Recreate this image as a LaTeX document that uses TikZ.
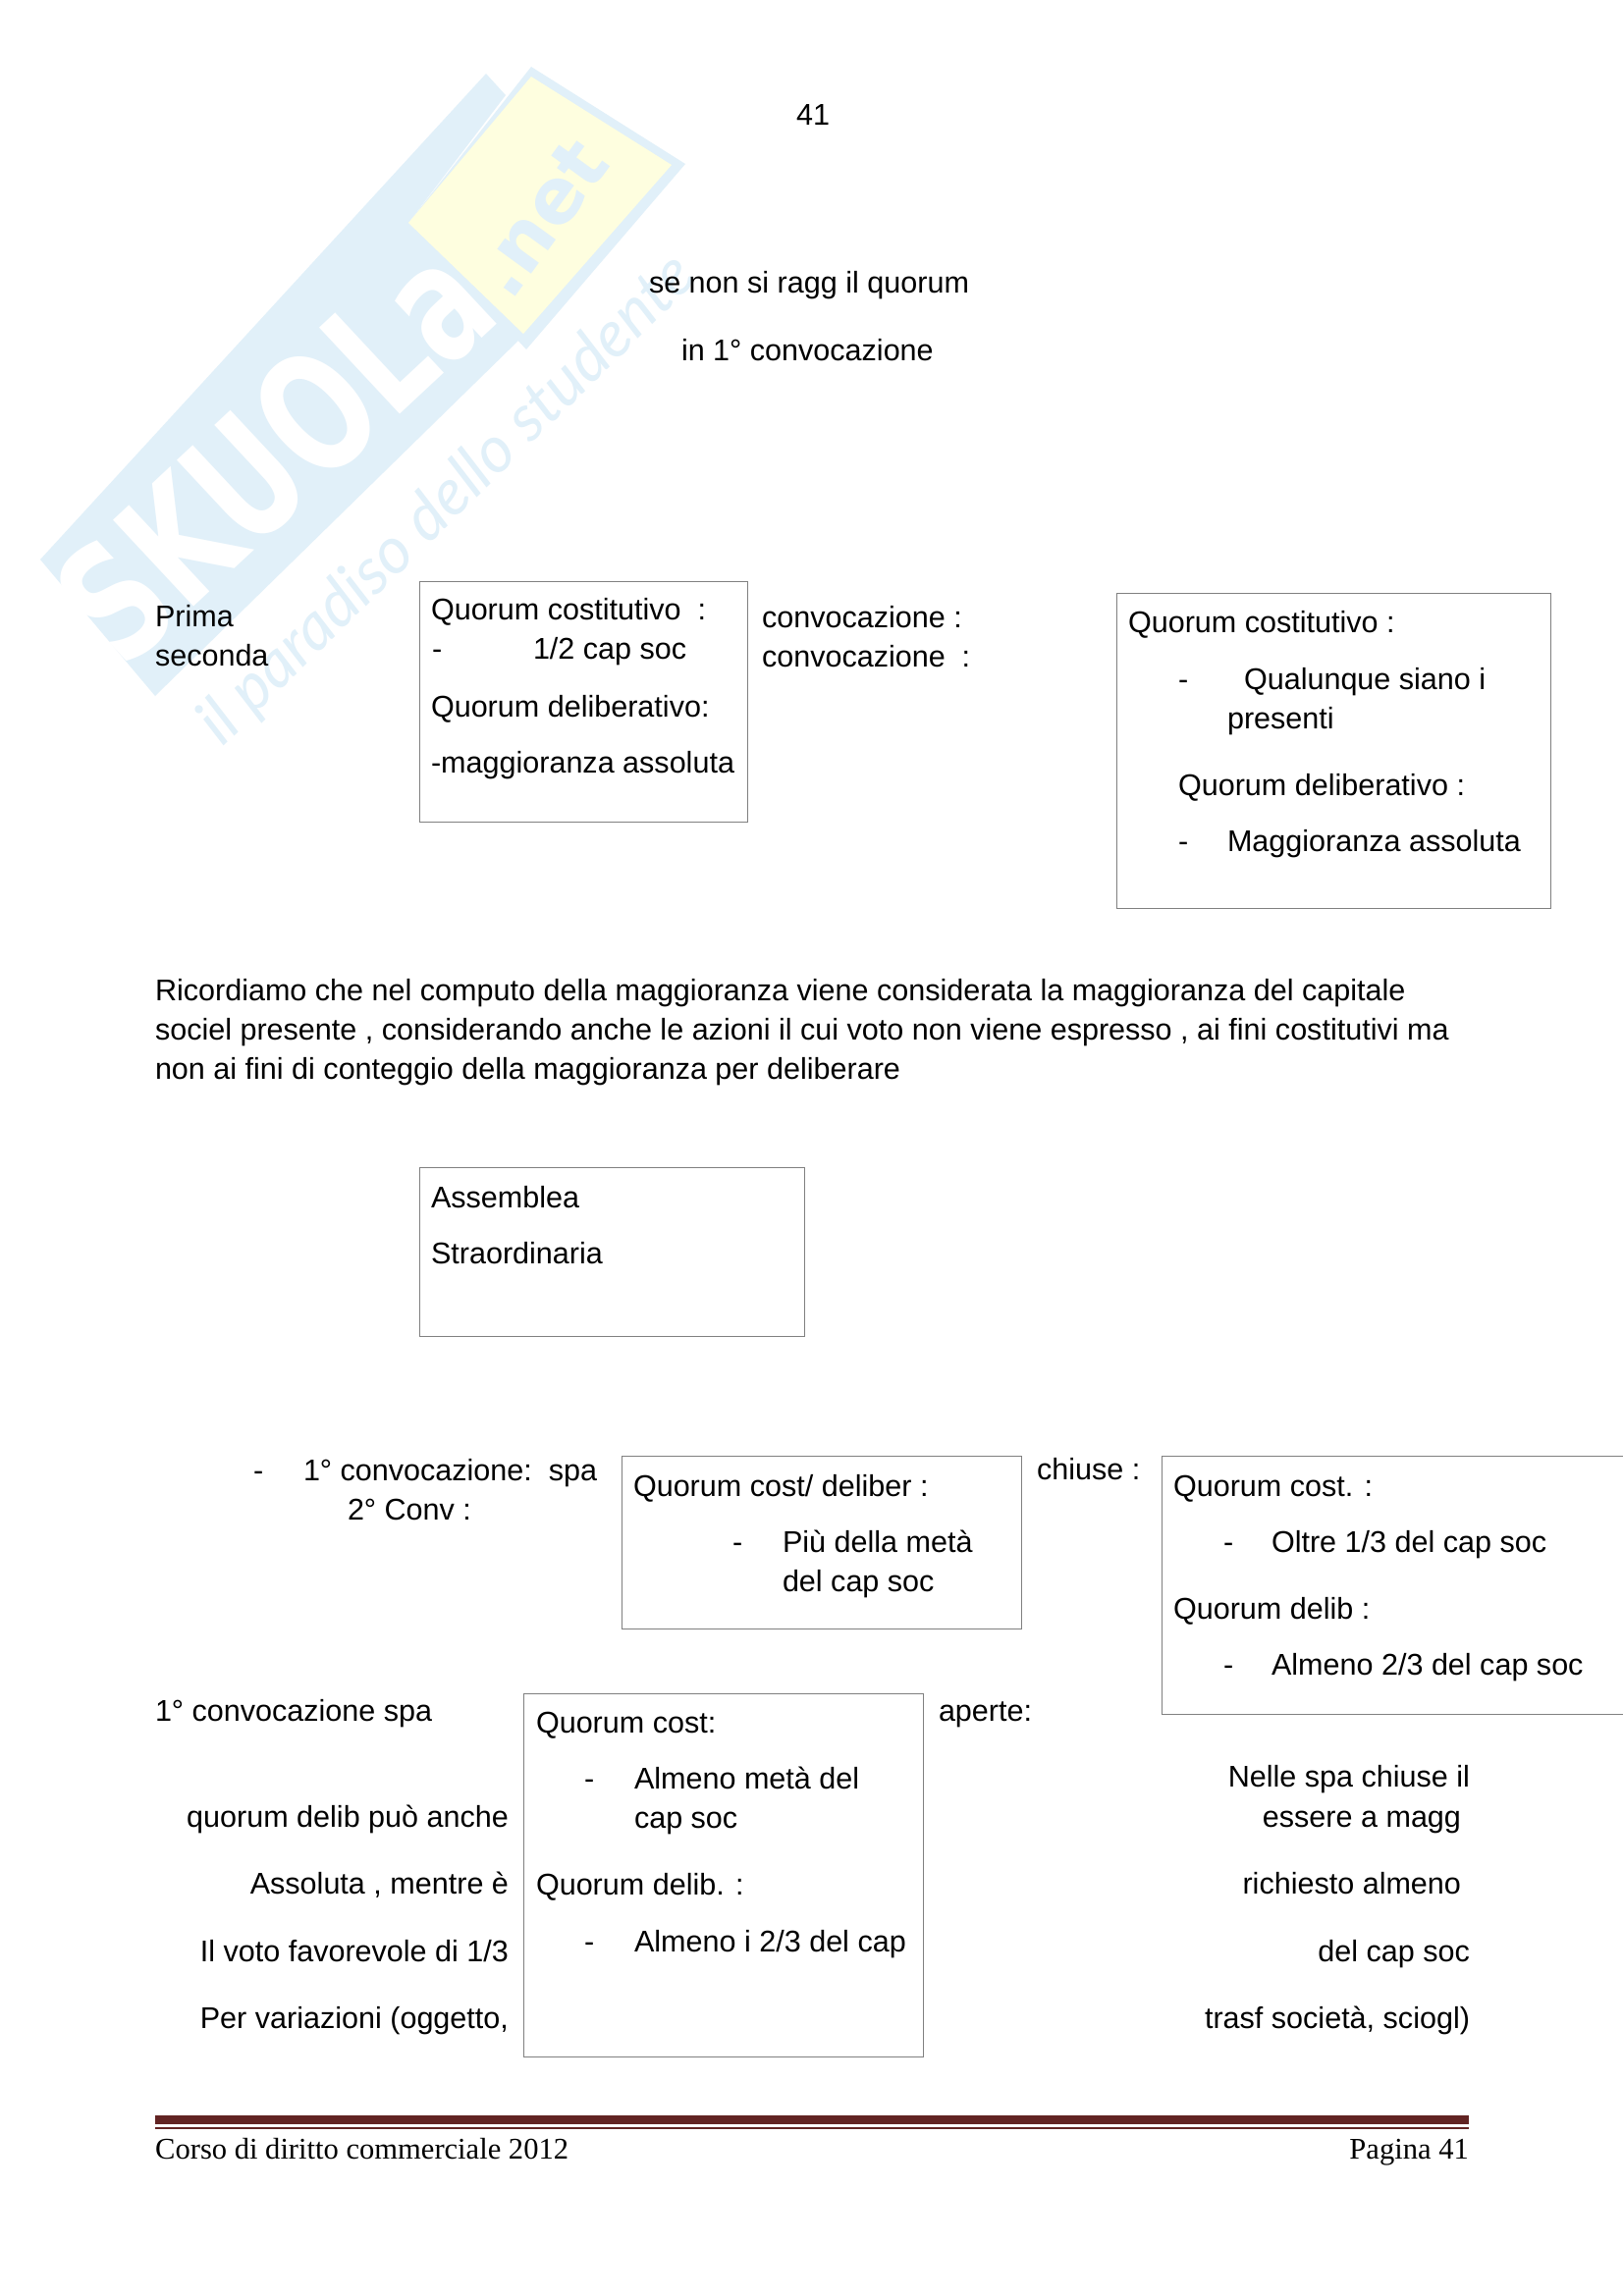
\documentclass[tikz,border=0pt]{standalone}
\usepackage{fontspec}
\setmainfont{Liberation Sans}
\newfontfamily\footfont{Liberation Serif}
\newfontfamily\wmfont{DejaVu Sans}
\newfontfamily\wmital{Lato}
\definecolor{wmblue}{HTML}{E1F0F9}
\definecolor{wmyellow}{HTML}{FEFEDF}
\definecolor{rulecol}{HTML}{622423}
\definecolor{boxline}{HTML}{808080}
\tikzset{
  txt/.style={anchor=base west,inner sep=0pt,outer sep=0pt,yshift=0.5pt,font=\fontsize{30.55}{37}\selectfont,text=black},
  txtr/.style={txt,anchor=base east},
  footl/.style={anchor=base west,inner sep=0pt,yshift=1pt,font=\footfont\fontsize{30.55}{37}\selectfont},
  footr/.style={footl,anchor=base east},
  wbox/.style={draw=boxline,line width=1pt},
  wmmain/.style={text=white,font=\wmfont\bfseries\fontsize{165}{180}\selectfont,inner sep=0pt},
}
\begin{document}
\begin{tikzpicture}[x=1pt,y=-1pt]
\useasboundingbox (0,0) rectangle (1653,2339);
\fill[white] (0,0) rectangle (1653,2339);
% watermark
\fill[wmblue] (41,570) -- (495,75) -- (515,97) -- (416,227) -- (530,345) -- (158,709) -- cycle;
\fill[wmblue] (541,68) -- (698,167) -- (536,356) -- (416,227) -- cycle;
\fill[wmyellow] (541,78) -- (684,168) -- (533,340) -- (416,227) -- cycle;
\node[wmmain,rotate=43] (wmskuola) at (279,460) {\scalebox{0.72}[1]{SKUOLa}};
\node[rotate=54,text=wmblue,font=\wmfont\bfseries\fontsize{78}{86}\selectfont,inner sep=0pt] (wmnet) at (550,222) {.net};
\node[rotate=44.5,text=wmblue,font=\wmital\itshape\fontsize{66}{75}\selectfont,inner sep=0pt] (wmsub) at (456,510) {il paradiso dello studente};

% boxes
\draw[wbox] (427,592) rectangle (761,837);
\draw[wbox] (1137,604) rectangle (1579,925);
\draw[wbox] (427,1189) rectangle (819,1361);
\draw[wbox] (633,1483) rectangle (1040,1659);
\draw[wbox] (1653,1483) -- (1183,1483) -- (1183,1746) -- (1653,1746);
\draw[wbox] (533,1725) rectangle (940,2095);

% page number and heading
\node[txt,anchor=base] (pnum) at (828,128) {41};
\node[txt] (h1) at (661,299) {se non si ragg il quorum};
\node[txt] (h2) at (694,368) {in 1° convocazione};

% first row
\node[txt] (a1) at (158,639) {Prima};
\node[txt] (a2) at (158,679) {seconda};
\node[txt] (b1) at (439,632) {Quorum costitutivo\ \ :};
\node[txt] (b2) at (440,672) {-};
\node[txt] (b3) at (543,672) {1/2 cap soc};
\node[txt] (b4) at (439,731) {Quorum deliberativo:};
\node[txt] (b5) at (439,788) {-maggioranza assoluta};
\node[txt] (c1) at (776,640) {convocazione :};
\node[txt] (c2) at (776,680) {convocazione\ \ :};
\node[txt] (d1) at (1149,645) {Quorum costitutivo :};
\node[txt] (d2) at (1200,703) {-};
\node[txt] (d3) at (1267,703) {Qualunque siano i};
\node[txt] (d4) at (1250,743) {presenti};
\node[txt] (d5) at (1200,811) {Quorum deliberativo :};
\node[txt] (d6) at (1200,868) {-};
\node[txt] (d7) at (1250,868) {Maggioranza assoluta};

% paragraph
\node[txt] (p1) at (158,1020) {Ricordiamo che nel computo della maggioranza viene considerata la maggioranza del capitale};
\node[txt] (p2) at (158,1060) {sociel presente , considerando anche le azioni il cui voto non viene espresso , ai fini costitutivi ma};
\node[txt] (p3) at (158,1100) {non ai fini di conteggio della maggioranza per deliberare};

% assemblea
\node[txt] (e1) at (439,1231) {Assemblea};
\node[txt] (e2) at (439,1288) {Straordinaria};

% second row
\node[txt] (f1) at (258,1509) {-};
\node[txt] (f2) at (309,1509) {1° convocazione:\ \ spa};
\node[txt] (f3) at (354,1549) {2° Conv :};
\node[txt] (g1) at (645,1525) {Quorum cost/ deliber :};
\node[txt] (g2) at (746,1582) {-};
\node[txt] (g3) at (797,1582) {Più della metà};
\node[txt] (g4) at (797,1622) {del cap soc};
\node[txt] (h3) at (1056,1508) {chiuse :};
\node[txt] (i1) at (1195,1525) {Quorum cost. :};
\node[txt] (i2) at (1246,1582) {-};
\node[txt] (i3) at (1295,1582) {Oltre 1/3 del cap soc};
\node[txt] (i4) at (1195,1650) {Quorum delib :};
\node[txt] (i5) at (1246,1707) {-};
\node[txt] (i6) at (1295,1707) {Almeno 2/3 del cap soc};

% third row
\node[txt] (j1) at (158,1754) {1° convocazione spa};
\node[txtr] (j2) at (518,1862) {quorum delib può anche};
\node[txtr] (j3) at (518,1930) {Assoluta , mentre è};
\node[txtr] (j4) at (518,1999) {Il voto favorevole di 1/3};
\node[txtr] (j5) at (518,2067) {Per variazioni (oggetto,};
\node[txt] (k1) at (546,1766) {Quorum cost:};
\node[txt] (k2) at (595,1823) {-};
\node[txt] (k3) at (646,1823) {Almeno metà del};
\node[txt] (k4) at (646,1863) {cap soc};
\node[txt] (k5) at (546,1931) {Quorum delib. :};
\node[txt] (k6) at (595,1989) {-};
\node[txt] (k7) at (646,1989) {Almeno i 2/3 del cap};
\node[txt] (l1) at (956,1754) {aperte:};
\node[txtr] (m1) at (1497,1821) {Nelle spa chiuse il};
\node[txtr] (m2) at (1488,1862) {essere a magg};
\node[txtr] (m3) at (1488,1930) {richiesto almeno};
\node[txtr] (m4) at (1497,1999) {del cap soc};
\node[txtr] (m5) at (1497,2067) {trasf società, sciogl)};

% footer
\fill[rulecol] (158,2155) rectangle (1496,2164);
\fill[rulecol] (158,2166.5) rectangle (1496,2169);
\node[footl] (fa) at (158,2200) {Corso di diritto commerciale 2012};
\node[footr] (fb) at (1496,2200) {Pagina 41};
\end{tikzpicture}
\end{document}
